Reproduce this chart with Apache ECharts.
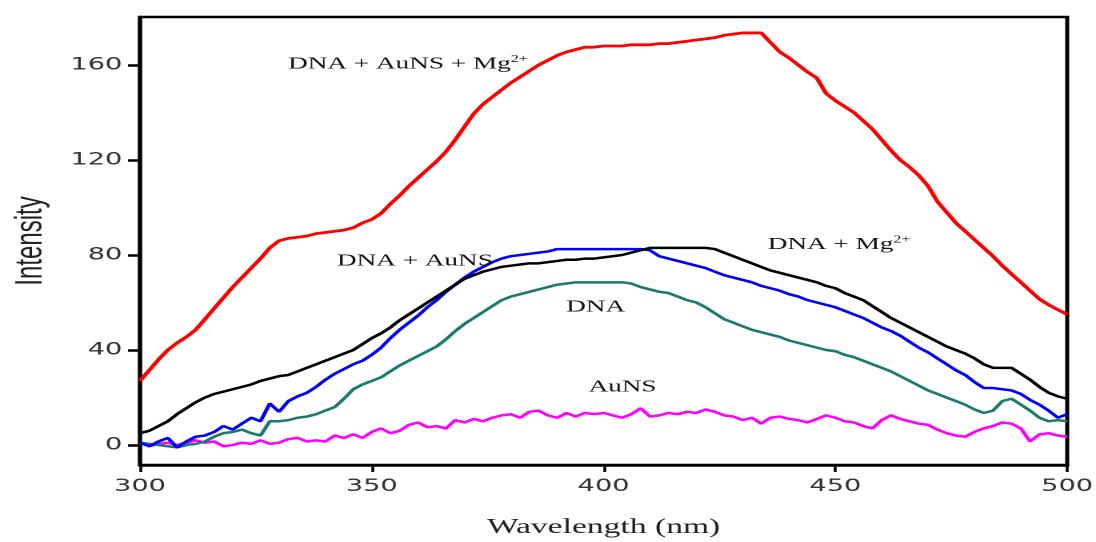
<!DOCTYPE html>
<html>
<head>
<meta charset="utf-8">
<script src="https://cdn.jsdelivr.net/npm/echarts@6/dist/echarts.min.js"></script>
<style>
  html, body { margin: 0; padding: 0; background: #fff; overflow: hidden; width: 1096px; height: 542px; }
  /* the figure is laid out narrow and widened horizontally, like the printed plot */
  #chart { width: 685px; height: 542px; transform: scaleX(1.6); transform-origin: 0 0; }
</style>
</head>
<body>
<div id="chart"></div>
<script>
// Wavelength grid (nm)
const wavelengths = [
  300,302,304,306,308,310,312,314,316,318,
  320,322,324,326,328,330,332,334,336,338,
  340,342,344,346,348,350,352,354,356,358,
  360,362,364,366,368,370,372,374,376,378,
  380,382,384,386,388,390,392,394,396,398,
  400,402,404,406,408,410,412,414,416,418,
  420,422,424,426,428,430,432,434,436,438,
  440,442,444,446,448,450,452,454,456,458,
  460,462,464,466,468,470,472,474,476,478,
  480,482,484,486,488,490,492,494,496,498,
  500
];

// Emission intensity for each sample
const dnaAunsMg = [
  27.0,31.5,36.0,40.0,43.0,45.5,48.5,53.0,57.5,62.0,
  66.5,70.5,74.5,78.5,83.0,86.0,87.0,87.5,88.0,89.0,
  89.5,90.0,90.5,91.5,93.5,95.0,97.5,101.5,105.0,109.0,
  112.5,116.0,119.5,123.5,128.5,134.0,139.5,143.5,146.5,149.5,
  152.5,155.0,157.5,160.0,162.0,164.0,165.5,166.5,167.5,167.5,
  168.0,168.0,168.0,168.5,168.5,168.5,169.0,169.0,169.5,170.0,
  170.5,171.0,171.5,172.5,173.0,173.5,173.5,173.5,169.5,165.5,
  163.0,160.0,157.0,154.5,148.0,145.0,142.5,140.0,136.5,133.0,
  128.5,124.0,120.0,117.0,113.5,109.0,102.5,98.0,93.5,90.0,
  86.5,83.0,79.5,75.5,72.0,68.5,65.0,61.5,59.0,57.0,
  55.0
];
const dnaMg = [
  5.0,6.0,8.0,10.0,13.0,15.5,18.0,20.0,21.5,22.5,
  23.5,24.5,25.5,27.0,28.0,29.0,29.5,31.0,32.5,34.0,
  35.5,37.0,38.5,40.0,42.5,45.0,47.0,49.5,52.5,55.0,
  57.5,60.0,62.5,65.0,67.5,70.0,71.5,73.0,74.0,75.0,
  75.5,76.0,76.5,76.5,77.0,77.5,78.0,78.0,78.5,78.5,
  79.0,79.5,80.0,81.0,82.0,83.0,83.0,83.0,83.0,83.0,
  83.0,83.0,82.5,81.0,79.5,78.0,76.5,75.0,73.5,72.5,
  71.5,70.5,69.5,68.5,67.0,66.0,64.0,62.5,61.0,58.5,
  56.0,53.5,51.5,49.5,47.5,45.5,43.5,41.5,40.0,38.5,
  36.5,34.0,32.5,32.5,32.5,30.0,27.5,24.5,22.0,20.5,
  19.5
];
const dnaAuns = [
  1.0,-0.5,1.5,3.0,-1.0,1.5,3.5,4.0,5.5,8.0,
  6.5,9.0,11.5,10.0,17.5,14.0,18.5,20.5,22.0,24.5,
  27.5,30.0,32.0,34.0,35.5,38.0,41.0,45.0,48.5,51.5,
  54.5,58.0,61.0,64.5,67.5,70.5,73.0,75.0,77.0,78.5,
  79.5,80.0,80.5,81.0,81.5,82.5,82.5,82.5,82.5,82.5,
  82.5,82.5,82.5,82.5,82.5,82.0,79.5,78.5,77.5,76.5,
  75.5,74.5,73.0,71.5,70.5,69.5,68.5,67.0,66.0,65.0,
  63.5,62.5,61.0,60.0,59.0,58.0,56.5,55.0,53.5,51.5,
  49.5,48.0,46.0,43.5,41.0,39.0,36.5,34.0,31.5,29.5,
  26.5,24.0,24.0,23.5,23.0,21.5,19.0,17.0,14.5,11.5,
  13.0
];
const dna = [
  1.0,0.5,0.0,-0.5,-1.0,0.0,0.5,1.5,3.5,5.0,
  5.5,6.5,5.0,4.0,10.0,10.0,10.5,11.5,12.0,13.0,
  14.5,16.0,19.5,23.5,25.5,27.0,28.5,31.0,33.5,35.5,
  37.5,39.5,41.5,44.5,48.0,51.0,53.5,56.0,58.5,61.0,
  62.5,63.5,64.5,65.5,66.5,67.5,68.0,68.5,68.5,68.5,
  68.5,68.5,68.5,68.0,66.5,65.5,64.5,64.0,62.5,61.0,
  60.0,58.0,55.5,53.0,51.5,50.0,48.5,47.5,46.5,45.5,
  44.0,43.0,42.0,41.0,40.0,39.5,38.0,37.0,35.5,34.0,
  32.5,31.0,29.0,27.0,25.0,23.0,21.5,20.0,18.5,17.0,
  15.0,13.5,14.5,18.5,19.5,17.0,14.5,11.5,10.0,10.5,
  10.0
];
const auns = [
  1.0,-0.5,0.5,1.0,0.0,1.0,2.0,1.0,1.5,-0.5,
  0.0,1.0,0.5,2.0,0.5,1.0,2.5,3.0,1.5,2.0,
  1.5,4.0,3.0,4.5,3.0,5.5,7.0,5.0,6.0,8.5,
  9.5,7.5,8.0,7.0,10.5,9.5,11.0,10.0,11.5,12.5,
  13.0,11.5,14.0,14.5,12.5,11.5,13.5,12.0,13.5,13.0,
  13.5,12.5,11.5,13.0,15.5,12.0,12.5,13.5,13.0,14.0,
  13.5,15.0,14.0,12.5,12.0,10.5,11.5,9.0,11.5,12.0,
  11.0,10.5,9.5,11.0,12.5,11.5,10.0,9.5,8.0,7.0,
  10.5,12.5,11.0,10.0,9.0,8.5,6.5,5.0,4.0,3.5,
  5.5,7.0,8.0,9.5,9.0,7.0,1.5,4.5,5.0,4.0,
  3.5
];

// Axis ticks
const xTicks = [300, 350, 400, 450, 500];
const yTicks = [0, 40, 80, 120, 160];

// Curve labels: main text, superscript, anchor [wavelength, intensity]
const curveLabels = {
  dnaAunsMg: { text: 'DNA + AuNS + Mg', sup: '2+', at: [357.8, 160.5] },
  dnaAuns:   { text: 'DNA + AuNS',      sup: '',   at: [359.3, 77.5] },
  dna:       { text: 'DNA',             sup: '',   at: [398.3, 58.0] },
  auns:      { text: 'AuNS',            sup: '',   at: [404.1, 24.5] },
  dnaMg:     { text: 'DNA + Mg',        sup: '2+', at: [450.8, 84.5] }
};

const pairs = vals => wavelengths.map((w, i) => [w, vals[i]]);

const serif = 'Liberation Serif, Times New Roman, serif';
const richText = {
  t: { fontFamily: serif, fontSize: 17, color: '#111' },
  s: { fontFamily: serif, fontSize: 10, color: '#111', verticalAlign: 'top', padding: [0, 0, 9, 0] }
};

function labelMark(key) {
  const l = curveLabels[key];
  return {
    symbol: 'circle',
    symbolSize: 0,
    itemStyle: { color: 'rgba(0,0,0,0)' },
    silent: true,
    label: {
      show: true,
      position: 'inside',
      formatter: l.sup ? '{t|' + l.text + '}{s|' + l.sup + '}' : '{t|' + l.text + '}',
      rich: richText
    },
    data: [{ coord: l.at, value: 0 }]
  };
}

function curve(name, key, vals, color, width, z) {
  return {
    name: name,
    type: 'line',
    data: pairs(vals),
    symbol: 'none',
    z: z,
    lineStyle: { color: color, width: width },
    emphasis: { disabled: true },
    markPoint: labelMark(key)
  };
}

const chart = echarts.init(document.getElementById('chart'), null, { renderer: 'canvas', devicePixelRatio: 2 });

chart.setOption({
  backgroundColor: '#ffffff',
  animation: false,
  grid: {
    left: 87.5, right: 18, top: 17, bottom: 77,
    show: true, borderColor: '#000', borderWidth: 2.5,
    outerBoundsMode: 'none'
  },
  xAxis: {
    type: 'value',
    min: 300, max: 500, interval: 50,
    name: 'Wavelength (nm)',
    nameLocation: 'middle',
    nameGap: 52,
    nameTextStyle: { fontFamily: serif, fontSize: 21, color: '#222' },
    axisLine: { show: true, onZero: false, lineStyle: { color: '#000', width: 2.5 } },
    axisTick: { show: true, inside: false, length: 7, lineStyle: { color: '#000', width: 1.8 } },
    axisLabel: {
      margin: 13,
      fontFamily: 'DejaVu Sans, sans-serif', fontSize: 17, color: '#333',
      customValues: xTicks
    },
    splitLine: { show: false }
  },
  yAxis: {
    type: 'value',
    min: -8.4, max: 180.2,
    name: 'Intensity',
    nameLocation: 'middle',
    nameRotate: 90,
    nameGap: 56,
    nameTextStyle: { fontFamily: 'Liberation Sans, Arial, sans-serif', fontSize: 24, color: '#222' },
    axisLine: { show: true, onZero: false, lineStyle: { color: '#000', width: 2.5 } },
    axisTick: { show: true, inside: false, length: 7.5, lineStyle: { color: '#000', width: 2.5 }, customValues: yTicks },
    axisLabel: {
      margin: 11,
      fontFamily: 'DejaVu Sans, sans-serif', fontSize: 17, color: '#333',
      customValues: yTicks
    },
    splitLine: { show: false }
  },
  series: [
    curve('AuNS', 'auns', auns, '#ff00ff', 2.5, 2),
    curve('DNA', 'dna', dna, '#1d7a6e', 2.5, 3),
    curve('DNA + AuNS', 'dnaAuns', dnaAuns, '#0000ff', 2.5, 4),
    curve('DNA + Mg2+', 'dnaMg', dnaMg, '#000000', 2.5, 5),
    curve('DNA + AuNS + Mg2+', 'dnaAunsMg', dnaAunsMg, '#ff0000', 2.8, 6)
  ]
});
</script>
</body>
</html>
